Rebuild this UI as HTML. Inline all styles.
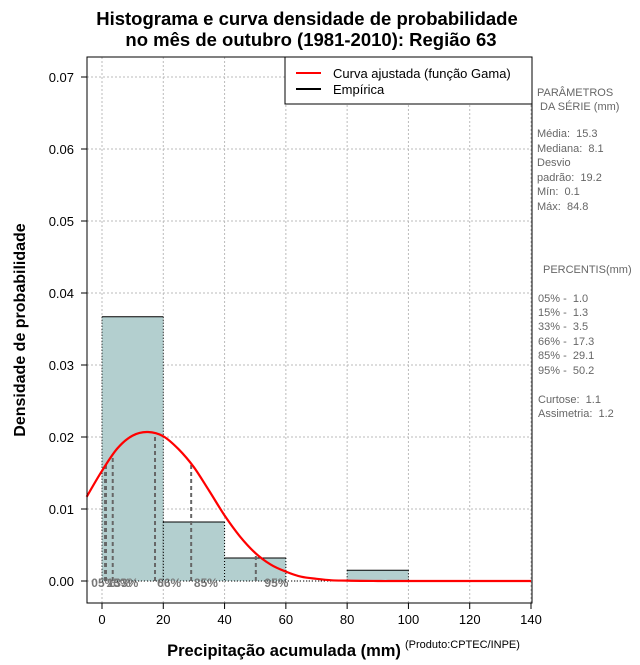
<!DOCTYPE html>
<html><head><meta charset="utf-8"><style>
body{margin:0;background:#fff;}
svg text{font-family:"Liberation Sans",sans-serif;white-space:pre;}
</style></head><body>
<svg id="chart" width="640" height="660" xmlns="http://www.w3.org/2000/svg" xml:space="preserve">
<text x="307" y="25" text-anchor="middle" font-size="18.5" font-weight="bold">Histograma e curva densidade de probabilidade</text>
<text x="311" y="46" text-anchor="middle" font-size="18.5" font-weight="bold">no mês de outubro (1981-2010): Região 63</text>
<g id="grid"></g>
<g id="bars"></g>
<g id="pct"></g>
<g id="curve"></g>
<g id="axes"></g>
<rect x="87" y="57" width="445" height="546" fill="none" stroke="#000" stroke-width="1"/>
<g>
<rect x="285" y="57" width="247" height="47" fill="#fff" stroke="#000"/>
<line x1="296" y1="73" x2="321" y2="73" stroke="red" stroke-width="2"/>
<text x="333" y="78" font-size="13">Curva ajustada (função Gama)</text>
<line x1="296" y1="89" x2="321" y2="89" stroke="#000" stroke-width="2"/>
<text x="333" y="94" font-size="13">Empírica</text>
</g>
<g font-size="11" fill="#666">
<text x="537" y="96">PARÂMETROS</text>
<text x="540" y="110">DA SÉRIE (mm)</text>
<text x="537" y="137">Média:  15.3</text>
<text x="537" y="152">Mediana:  8.1</text>
<text x="537" y="166">Desvio</text>
<text x="537" y="181">padrão:  19.2</text>
<text x="537" y="195">Mín:  0.1</text>
<text x="537" y="210">Máx:  84.8</text>
<text x="543" y="273">PERCENTIS(mm)</text>
<text x="538" y="302">05% -  1.0</text>
<text x="538" y="316">15% -  1.3</text>
<text x="538" y="330">33% -  3.5</text>
<text x="538" y="345">66% -  17.3</text>
<text x="538" y="359">85% -  29.1</text>
<text x="538" y="374">95% -  50.2</text>
<text x="538" y="403">Curtose:  1.1</text>
<text x="538" y="417">Assimetria:  1.2</text>
</g>
<text x="25" y="330" transform="rotate(-90 25 330)" text-anchor="middle" font-size="16" font-weight="bold">Densidade de probabilidade</text>
<text x="284" y="656" text-anchor="middle" font-size="16.5" font-weight="bold">Precipitação acumulada (mm)</text>
<text x="405" y="648" font-size="11">(Produto:CPTEC/INPE)</text>
</svg>
<script>
const binStarts=[0,20,40,60,80];
const binWidth=20;
const binDensity=[0.0367,0.0082,0.0032,0,0.0015];
const curveX=[-5,0,5,10,15,20,25,30,35,40,45,50,55,60,65,70,75,80,90,100,140];
const curveY=[0.0117,0.0153,0.0184,0.0202,0.0207,0.0201,0.0183,0.0158,0.0125,0.0091,0.0062,0.0039,0.0023,0.0013,0.0006,0.0003,0.0001,0.00005,0,0,0];
const pctNames=["05%","15%","33%","66%","85%","95%"];
const pctValues=[1.0,1.3,3.5,17.3,29.1,50.2];
const pctLabelX=[-3.5,1.5,4,18,30,53];
const xTicks=[0,20,40,60,80,100,120,140];
const yTicks=[0,0.01,0.02,0.03,0.04,0.05,0.06,0.07];
const yTickLabels=["0.00","0.01","0.02","0.03","0.04","0.05","0.06","0.07"];

const NS="http://www.w3.org/2000/svg";
const X=v=>102+v*(531-102)/140;
const Y=v=>581-v*7200;
function mk(parent,tag,attrs){const e=document.createElementNS(NS,tag);for(const k in attrs)e.setAttribute(k,attrs[k]);document.getElementById(parent).appendChild(e);return e;}
function interp(x){for(let i=0;i<curveX.length-1;i++){if(x>=curveX[i]&&x<=curveX[i+1]){const t=(x-curveX[i])/(curveX[i+1]-curveX[i]);return curveY[i]+t*(curveY[i+1]-curveY[i]);}}return 0;}

xTicks.forEach((t,i)=>{
 let g=mk('grid','line',{x1:X(t),x2:X(t),y1:57,y2:603,stroke:'#bbb','stroke-dasharray':'2,2'});
 
 
 let k=mk('axes','line',{x1:X(t),x2:X(t),y1:603,y2:609,stroke:'#000'});
 
 
 let l=mk('axes','text',{x:X(t),y:624,'text-anchor':'middle','font-size':13});
 l.textContent=t;
 
 
});
yTicks.forEach((t,i)=>{
 let g=mk('grid','line',{x1:87,x2:532,y1:Y(t),y2:Y(t),stroke:'#bbb','stroke-dasharray':'2,2'});
 
 
 let k=mk('axes','line',{x1:81,x2:87,y1:Y(t),y2:Y(t),stroke:'#000'});
 
 
 let l=mk('axes','text',{x:74,y:Y(t)+5,'text-anchor':'end','font-size':13});
 l.textContent=yTickLabels[i];
 
 
});
binStarts.forEach((b,i)=>{
 const d=binDensity[i];
 if(d>0){
  let r=mk('bars','rect',{x:X(b),y:Y(d),width:X(b+binWidth)-X(b),height:Y(0)-Y(d),fill:'#b3cfcf'});
  
  
  mk('bars','line',{x1:X(b),x2:X(b+binWidth),y1:Y(d),y2:Y(d),stroke:'#000'});
  mk('bars','line',{x1:X(b),x2:X(b),y1:Y(d),y2:Y(0),stroke:'#000','stroke-dasharray':'1,2'});
  mk('bars','line',{x1:X(b+binWidth),x2:X(b+binWidth),y1:Y(d),y2:Y(0),stroke:'#000','stroke-dasharray':'1,2'});
 }
});
let base=mk('bars','line',{x1:X(0),x2:X(140),y1:Y(0),y2:Y(0),stroke:'#000','stroke-dasharray':'1,2'});


pctValues.forEach((p,i)=>{
 let ln=mk('pct','line',{x1:X(p),x2:X(p),y1:Y(0),y2:Y(interp(p)),stroke:'#666','stroke-width':2,'stroke-dasharray':'4,3'});
 
 
 let t=mk('pct','text',{x:X(pctLabelX[i]),y:Y(0)+6,'font-size':12,'font-weight':'bold',fill:'#777'});
 t.textContent=pctNames[i];
 
 
});
// smooth Catmull-Rom path through data points
const P=curveX.map((x,i)=>[X(x),Y(curveY[i])]);
let d='M'+P[0][0].toFixed(1)+','+P[0][1].toFixed(1);
for(let i=0;i<P.length-1;i++){
 const p0=P[Math.max(i-1,0)],p1=P[i],p2=P[i+1],p3=P[Math.min(i+2,P.length-1)];
 const c1=[p1[0]+(p2[0]-p0[0])/6,p1[1]+(p2[1]-p0[1])/6];
 const c2=[p2[0]-(p3[0]-p1[0])/6,p2[1]-(p3[1]-p1[1])/6];
 d+='C'+c1[0].toFixed(1)+','+c1[1].toFixed(1)+' '+c2[0].toFixed(1)+','+c2[1].toFixed(1)+' '+p2[0].toFixed(1)+','+p2[1].toFixed(1);
}
let path=mk('curve','path',{d:d,fill:'none',stroke:'red','stroke-width':2.2,'stroke-linejoin':'round'});


</script>
</body></html>
